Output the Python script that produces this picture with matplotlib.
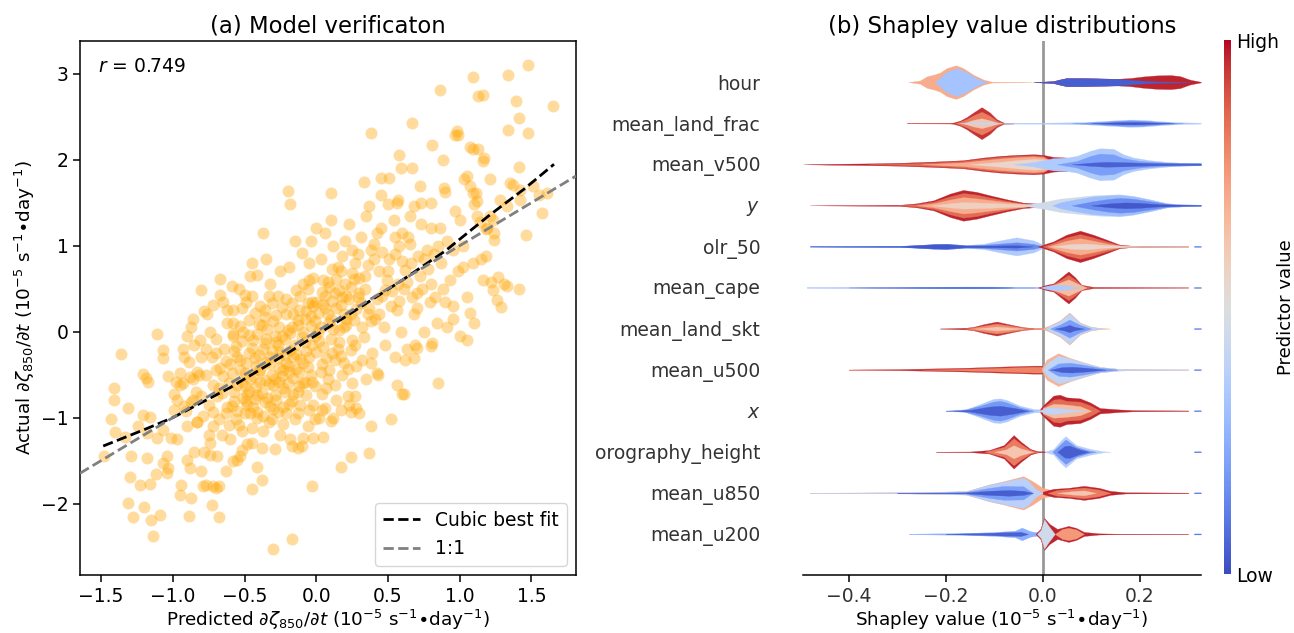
import matplotlib.pyplot as plt
import numpy as np
from matplotlib.colors import Normalize
from matplotlib.cm import ScalarMappable

plt.rcParams['font.family'] = 'DejaVu Sans'

# ---------------- (a) model verification ----------------
# (predicted, actual) pairs
points = np.array([
    # dense cloud
    (-0.97, -1.25), (-0.83, -1.05), (-0.91, -0.92), (-0.86, -0.80), (-0.95, -0.62), (-0.82, -0.50),
    (-0.89, -0.35), (-0.93, -0.20), (-0.85, -1.40), (-0.99, -0.72), (-0.87, 0.05), (-0.81, -0.10),
    (-0.78, -1.40), (-0.66, -1.20), (-0.72, -1.10), (-0.63, -0.95), (-0.75, -0.85), (-0.69, -0.75),
    (-0.61, -0.60), (-0.77, -0.50), (-0.67, -0.42), (-0.73, -0.30), (-0.64, -0.20), (-0.70, -0.08),
    (-0.62, 0.10), (-0.76, 0.20), (-0.68, -0.65), (-0.74, -1.30), (-0.65, 0.35),
    (-0.58, -1.50), (-0.45, -1.30), (-0.52, -1.15), (-0.41, -1.00), (-0.55, -0.92), (-0.48, -0.85),
    (-0.43, -0.78), (-0.57, -0.70), (-0.50, -0.63), (-0.46, -0.55), (-0.59, -0.48), (-0.42, -0.40),
    (-0.53, -0.33), (-0.47, -0.25), (-0.56, -0.17), (-0.44, -0.10), (-0.51, 0.00), (-0.58, 0.10),
    (-0.43, 0.22), (-0.49, 0.35), (-0.54, 0.50), (-0.46, 0.65), (-0.52, -0.58), (-0.40, -0.45),
    (-0.55, -0.30), (-0.48, -0.72), (-0.44, -0.88),
    (-0.38, -1.35), (-0.25, -1.20), (-0.33, -1.05), (-0.21, -0.95), (-0.36, -0.82), (-0.29, -0.74),
    (-0.23, -0.66), (-0.39, -0.58), (-0.31, -0.50), (-0.26, -0.42), (-0.35, -0.35), (-0.22, -0.27),
    (-0.37, -0.20), (-0.28, -0.12), (-0.24, -0.05), (-0.34, 0.03), (-0.30, 0.12), (-0.21, 0.20),
    (-0.39, 0.30), (-0.27, 0.42), (-0.32, 0.55), (-0.25, 0.70), (-0.35, 0.85), (-0.20, -0.60),
    (-0.33, -0.38), (-0.27, -0.15), (-0.38, 0.08), (-0.30, -0.90), (-0.23, -0.45), (-0.36, 0.25),
    (-0.18, -1.25), (-0.06, -1.10), (-0.13, -0.95), (-0.02, -0.85), (-0.16, -0.72), (-0.09, -0.60),
    (-0.04, -0.50), (-0.19, -0.40), (-0.11, -0.32), (-0.07, -0.22), (-0.15, -0.15), (-0.01, -0.05),
    (-0.17, 0.05), (-0.08, 0.15), (-0.12, 0.25), (-0.03, 0.35), (-0.14, 0.48), (-0.05, 0.60),
    (-0.19, 0.75), (-0.10, 0.92), (-0.04, 1.05), (-0.16, -0.30), (-0.09, 0.00), (-0.02, 0.30),
    (-0.13, -0.70), (-0.06, 0.50),
    (0.02, -1.00), (0.14, -0.80), (0.07, -0.65), (0.18, -0.50), (0.04, -0.38), (0.11, -0.25),
    (0.16, -0.12), (0.01, 0.00), (0.09, 0.10), (0.19, 0.20), (0.05, 0.32), (0.13, 0.45),
    (0.08, 0.58), (0.17, 0.70), (0.03, 0.85), (0.12, 1.00), (0.06, 1.15), (0.15, -0.20),
    (0.10, 0.15), (0.18, 0.40),
    (0.22, -0.75), (0.35, -0.55), (0.28, -0.40), (0.39, -0.25), (0.25, -0.10), (0.32, 0.05),
    (0.21, 0.15), (0.37, 0.28), (0.29, 0.40), (0.24, 0.52), (0.34, 0.65), (0.27, 0.80),
    (0.38, 0.95), (0.31, 1.10), (0.23, 1.25), (0.36, 0.20), (0.30, 0.45),
    (0.43, -0.50), (0.55, -0.30), (0.48, -0.15), (0.59, 0.00), (0.41, 0.15), (0.52, 0.30),
    (0.46, 0.42), (0.57, 0.55), (0.44, 0.70), (0.51, 0.85), (0.58, 1.00), (0.42, 1.15),
    (0.54, 1.30), (0.49, 0.60), (0.56, 0.25),
    (0.63, -0.20), (0.75, 0.00), (0.68, 0.20), (0.79, 0.35), (0.61, 0.50), (0.72, 0.65),
    (0.66, 0.80), (0.77, 0.95), (0.64, 1.10), (0.73, 1.25), (0.70, 0.45),
    (0.84, 0.10), (0.95, 0.30), (0.88, 0.50), (0.99, 0.70), (0.82, 0.90), (0.91, 1.05),
    (0.86, 1.20), (0.97, 1.40), (0.93, 0.60),
    (1.05, 0.40), (1.16, 0.60), (1.09, 0.80), (1.02, 1.00), (1.19, 1.20),
    (-0.62, -0.88), (-0.57, -0.81), (-0.51, -0.77), (-0.47, -0.69), (-0.42, -0.64), (-0.38, -0.71),
    (-0.33, -0.61), (-0.29, -0.55), (-0.24, -0.52), (-0.19, -0.47), (-0.14, -0.43), (-0.09, -0.37),
    (-0.05, -0.29), (0.00, -0.24), (0.05, -0.18), (0.10, -0.09), (0.16, 0.02), (0.21, 0.08),
    (0.26, 0.13), (-0.65, -0.52), (-0.60, -0.38), (-0.53, -0.44), (-0.49, -0.36), (-0.45, -0.19),
    (-0.40, -0.27), (-0.36, -0.13), (-0.31, -0.22), (-0.27, -0.31), (-0.22, -0.08), (-0.18, -0.02),
    (-0.13, 0.08), (-0.08, -0.12), (-0.04, 0.18), (0.01, 0.22), (0.06, 0.27), (0.11, 0.36),
    (0.17, 0.31), (0.23, 0.38), (0.28, 0.26), (-0.68, -1.02), (-0.61, -1.08), (-0.56, -1.02),
    (-0.50, -0.95), (-0.45, -1.12), (-0.41, -0.93), (-0.37, -0.98), (-0.32, -0.86), (-0.28, -0.79),
    (-0.23, -0.88), (-0.17, -0.81), (-0.12, -0.63), (-0.07, -0.74), (-0.03, -0.58), (0.03, -0.47),
    (0.08, -0.55), (0.13, -0.33), (0.19, -0.36), (0.24, -0.21), (-0.58, -0.05), (-0.53, 0.07),
    (-0.47, 0.14), (-0.41, -0.03), (-0.36, 0.17), (-0.31, 0.33), (-0.26, 0.05), (-0.21, 0.38),
    (-0.16, 0.21), (-0.11, 0.41), (-0.06, 0.33), (-0.01, 0.12), (0.04, 0.46), (0.09, 0.52),
    (0.14, 0.61), (0.20, 0.55), (0.25, 0.68), (-0.72, -0.62), (-0.80, -0.75), (-0.90, -1.10),
    (-0.95, -0.48), (-0.60, -1.25), (-0.52, -1.38),
    (-0.66, -0.71), (-0.63, -0.34), (-0.59, -0.86), (-0.57, -0.22), (-0.55, -0.62), (-0.54, -1.08),
    (-0.52, -0.11), (-0.50, -0.48), (-0.49, -0.81), (-0.47, -0.04), (-0.46, -0.95), (-0.44, -0.52),
    (-0.43, -0.31), (-0.41, -0.74), (-0.40, 0.09), (-0.39, -0.44), (-0.37, -1.15), (-0.36, -0.56),
    (-0.35, -0.08), (-0.34, -0.77), (-0.33, 0.41), (-0.32, -0.29), (-0.31, -1.02), (-0.30, -0.62),
    (-0.29, -0.05), (-0.28, 0.19), (-0.27, -0.93), (-0.26, -0.58), (-0.25, -0.24), (-0.24, 0.29),
    (-0.23, -1.07), (-0.22, -0.70), (-0.21, -0.37), (-0.20, 0.02), (-0.19, -0.84), (-0.18, -0.21),
    (-0.17, 0.33), (-0.16, -0.54), (-0.15, -1.02), (-0.14, -0.26), (-0.13, 0.14), (-0.12, -0.47),
    (-0.11, -0.85), (-0.10, -0.06), (-0.09, 0.56), (-0.08, -0.58), (-0.07, 0.24), (-0.06, -0.41),
    (-0.05, -0.91), (-0.04, 0.07), (-0.03, -0.15), (-0.02, 0.62), (-0.01, -0.63), (0.00, 0.34),
    (0.02, -0.11), (0.03, 0.05), (0.04, -0.72), (0.06, 0.41), (0.07, -0.31), (0.08, 0.21),
    (0.09, -0.44), (0.11, 0.73), (0.12, 0.03), (0.13, -0.62), (0.14, 0.28), (0.16, 0.49),
    (0.17, -0.28), (0.18, 0.88), (0.19, 0.06), (0.21, 0.42), (0.22, -0.43), (0.24, 0.21),
    (0.26, 0.61), (0.27, -0.16), (0.29, 0.90), (0.31, 0.33), (0.33, -0.06), (0.34, 0.50),
    (0.36, 0.77), (0.38, 0.12), (0.40, 1.02), (0.42, 0.38), (0.44, 0.21), (0.46, 0.93),
    (0.47, 0.06), (0.50, 0.71), (0.53, 0.47), (0.55, 1.10), (0.58, 0.36), (0.60, 0.82),
    (0.63, 0.58), (0.65, 1.02), (0.67, 0.40), (0.71, 0.88), (0.74, 0.50), (0.78, 0.73),
    (0.83, 0.40), (0.87, 0.80), (-0.72, -0.93), (-0.70, -0.45), (-0.77, -0.20), (-0.79, -0.98),
    (-0.84, -0.70), (-0.88, -0.53), (-0.92, -0.30), (-0.75, -1.20), (-0.69, -1.45), (-0.63, -1.62),
    (-0.58, -0.03), (-0.62, 0.25), (-0.52, 0.28), (-0.45, 0.42),
    # upper-left scatter
    (-0.20, 1.64), (-0.18, 1.49), (-0.37, 1.15), (-0.15, 1.06), (-0.45, 0.80), (-0.41, 0.66),
    (-0.67, 0.61), (-0.59, 0.53), (-0.80, 0.48), (-0.67, 0.43), (-0.50, 0.43), (-0.72, 0.31),
    (-0.78, 0.24), (-0.58, 0.25), (-0.86, 0.15),
    # lower-left scatter
    (-1.11, -0.03), (-1.36, -0.26), (-1.07, -0.21), (-1.07, -0.31), (-1.21, -0.49), (-1.19, -0.54),
    (-1.17, -0.58), (-1.41, -0.65), (-1.41, -0.79), (-1.31, -0.89), (-1.43, -1.02), (-1.40, -1.17),
    (-1.48, -1.45), (-1.30, -1.69), (-1.23, -1.78), (-1.16, -1.77), (-1.31, -1.99), (-1.28, -2.15),
    (-1.20, -2.04), (-1.15, -2.19), (-1.09, -2.13), (-1.14, -2.38), (-0.30, -2.53), (-0.17, -2.41),
    (-0.89, -2.14), (-0.73, -2.01), (-0.68, -2.15), (-0.95, -1.90), (-0.87, -1.93), (-0.94, -1.78),
    (-0.79, -1.79), (-0.77, -1.78), (-0.72, -1.80), (-0.70, -1.82), (-0.68, -1.80), (-0.45, -1.83),
    (-0.38, -1.72), (-0.80, -1.62), (-1.04, -1.64), (-1.03, -1.59), (-1.07, -1.53), (-1.18, -1.47),
    (-1.12, -1.66), (-0.90, -1.49), (-0.88, -1.59), (-0.74, -1.43), (-0.55, -1.49), (-0.53, -1.45),
    (-0.48, -1.31), (-0.41, -1.57), (-0.29, -1.37), (-1.21, -0.97), (-1.16, -0.99), (-1.24, -1.10),
    (-1.18, -1.18), (-1.11, -1.24), (-1.01, -1.24), (-1.07, -1.14), (-1.04, -1.45), (-1.29, -1.45),
    (-1.33, -1.22), (-1.03, -0.52), (-0.98, -0.58), (-0.93, -0.60), (-0.86, -0.55), (-0.83, -0.47),
    (-0.97, -0.79), (-0.99, -0.91), (-0.92, -0.87), (-0.87, -0.82), (-0.83, -1.05), (-0.90, -0.05),
    (-0.85, -0.15), (-0.80, -0.30), (-0.74, 0.00), (-0.70, -0.25),
    # upper-right scatter
    (1.475, 3.10), (1.335, 2.99), (1.09, 2.96), (0.865, 2.81), (1.13, 2.74), (1.16, 2.75),
    (1.39, 2.68), (1.65, 2.62), (1.41, 2.48), (1.335, 2.35), (1.475, 2.31), (0.67, 2.43),
    (0.38, 2.31), (0.98, 2.33), (0.99, 2.29), (0.97, 2.29), (0.81, 2.17), (1.07, 2.15),
    (1.09, 2.12), (1.13, 2.12), (1.17, 2.02), (1.16, 1.98), (0.88, 2.00), (0.58, 2.06),
    (0.59, 1.90), (0.67, 1.90), (1.05, 1.81), (1.03, 1.77), (1.07, 1.69), (1.09, 1.61),
    (1.21, 1.77), (1.41, 1.91), (0.33, 1.74), (0.45, 1.79), (0.51, 1.79), (0.72, 1.69),
    (0.89, 1.67), (0.90, 1.63), (0.105, 1.61), (0.45, 1.59), (0.57, 1.53), (0.50, 1.48),
    (0.56, 1.50), (0.365, 1.46), (0.68, 1.46), (0.73, 1.50), (0.80, 1.50), (1.10, 1.48),
    (1.12, 1.52), (1.11, 1.61), (1.35, 1.73), (1.37, 1.71), (1.42, 1.65), (1.42, 1.53),
    (1.28, 1.53), (1.33, 1.46), (1.51, 1.69), (1.55, 1.59), (1.61, 1.61), (1.575, 1.38),
    (1.465, 1.12), (1.21, 1.34), (1.23, 1.30), (1.24, 1.15), (1.24, 1.07), (1.12, 1.34),
    (1.14, 1.28), (1.18, 1.19), (1.27, 0.64), (1.31, 0.55), (1.33, 0.53), (1.22, 0.58),
    (1.23, 0.48), (1.26, 0.37), (1.29, 0.29), (1.41, 0.50), (1.15, 0.85), (1.18, 0.88),
    (1.07, 0.22), (0.00, 1.20), (0.10, 1.30), (0.20, 1.05), (0.35, 1.35), (0.45, 1.20),
    (0.60, 1.15), (0.65, 1.35), (0.80, 1.20), (0.75, 0.85), (0.85, 1.00), (0.95, 0.95),
    (1.00, 1.30), (1.02, 0.75), (0.90, 0.35), (0.55, 0.90), (0.40, 0.85), (0.25, 0.95),
    (0.15, 0.75), (0.05, 0.60), (-0.05, 0.80), (0.30, 0.62), (0.48, 0.48), (0.62, 0.72),
    (0.70, 0.28), (0.80, 0.55), (0.95, 0.15), (1.10, 0.10), (1.00, -0.05),
    # lower-right scatter
    (1.05, -0.10), (0.85, -0.60), (0.81, -0.13), (0.80, -0.17), (0.91, 0.06), (0.69, -0.15),
    (0.70, -0.19), (0.68, -0.31), (0.62, -0.33), (0.56, -0.62), (0.60, -0.73), (0.61, -0.72),
    (0.52, -1.02), (0.38, -1.10), (0.37, -1.41), (0.24, -1.46), (0.17, -1.57), (-0.03, -1.79),
    (0.42, -0.48), (0.38, -0.36), (0.32, -0.33), (0.25, -0.60), (0.27, -0.75), (0.28, -0.89),
    (0.30, -0.95), (0.23, -0.85), (0.24, -0.93), (0.17, -0.91), (0.12, -1.00), (0.10, -1.04),
    (0.06, -0.89), (0.04, -0.91), (-0.01, -1.02), (-0.09, -1.24), (0.05, -1.22), (-0.02, -1.24),
    (-0.10, -1.33), (-0.13, -1.35), (-0.17, -1.33),
])
pred = points[:, 0]
actual = points[:, 1]

# cubic best fit curve
fit_pred = [-1.485, -1.2, -1.0, -0.6, -0.2, 0.2, 0.6, 0.9, 1.2, 1.45, 1.657]
fit_actual = [-1.33, -1.14, -1.0, -0.65, -0.25, 0.17, 0.6, 0.94, 1.345, 1.66, 1.947]
r_value = 0.749

# ---------------- (b) Shapley value distributions ----------------
feature_labels = ['hour', 'mean_land_frac', 'mean_v500', '$y$', 'olr_50', 'mean_cape',
                  'mean_land_skt', 'mean_u500', '$x$', 'orography_height', 'mean_u850',
                  'mean_u200']

# each layer: (predictor value 0-1, shap x knots, half width), drawn outer to inner
dash = (0.10, [0.311, 0.313, 0.326], [0.0, 0.012, 0.012])

hour_layers = [
    (0.70, [-0.277, -0.253, -0.239, -0.225, -0.212, -0.198, -0.179, -0.164, -0.143, -0.122, -0.105, -0.060, -0.019],
           [0.0, 0.04, 0.14, 0.18, 0.23, 0.34, 0.41, 0.34, 0.18, 0.06, 0.010, 0.006, 0.0]),
    (0.32, [-0.222, -0.198, -0.177, -0.157, -0.136, -0.115], [0.0, 0.25, 0.34, 0.24, 0.09, 0.0]),
    (0.97, [-0.019, 0.022, 0.036, 0.049, 0.084, 0.118, 0.153, 0.180, 0.208, 0.235, 0.263, 0.283, 0.304, 0.326],
           [0.0, 0.024, 0.065, 0.098, 0.098, 0.089, 0.081, 0.098, 0.138, 0.163, 0.171, 0.146, 0.057, 0.008]),
    (0.04, [-0.019, 0.022, 0.036, 0.049, 0.084, 0.118, 0.153, 0.180, 0.208, 0.235, 0.263, 0.283, 0.304],
           [0.0, 0.024, 0.065, 0.098, 0.098, 0.089, 0.081, 0.057, 0.033, 0.016, 0.012, 0.008, 0.0]),
]
land_frac_layers = [
    (0.95, [-0.280, -0.191, -0.184, -0.170, -0.157, -0.143, -0.126, -0.109, -0.095, -0.081, -0.060],
           [0.004, 0.008, 0.016, 0.065, 0.146, 0.26, 0.39, 0.26, 0.098, 0.016, 0.008]),
    (0.82, [-0.180, -0.170, -0.157, -0.143, -0.126, -0.109, -0.095, -0.081], [0.0, 0.04, 0.10, 0.19, 0.28, 0.18, 0.06, 0.0]),
    (0.62, [-0.165, -0.143, -0.126, -0.109, -0.090], [0.0, 0.08, 0.12, 0.07, 0.0]),
    (0.42, [-0.170, -0.126, -0.085], [0.005, 0.03, 0.005]),
    (0.35, [-0.081, 0.0, 0.084, 0.118, 0.153, 0.180, 0.208, 0.242, 0.276, 0.326],
           [0.010, 0.012, 0.024, 0.049, 0.073, 0.089, 0.081, 0.049, 0.024, 0.010]),
    (0.18, [0.060, 0.118, 0.153, 0.180, 0.208, 0.242, 0.290], [0.0, 0.03, 0.055, 0.07, 0.06, 0.03, 0.0]),
    (0.03, [0.100, 0.160, 0.190, 0.230, 0.270], [0.0, 0.025, 0.03, 0.015, 0.0]),
]
v500_layers = [
    (0.97, [-0.493, -0.432, -0.363, -0.294, -0.225, -0.164, -0.122, -0.088, -0.054, -0.019, 0.001, 0.022, 0.049, 0.060],
           [0.0, 0.012, 0.020, 0.036, 0.065, 0.098, 0.163, 0.203, 0.228, 0.244, 0.228, 0.179, 0.163, 0.0]),
    (0.85, [-0.360, -0.294, -0.225, -0.164, -0.122, -0.088, -0.054, -0.019, 0.001, 0.030],
           [0.0, 0.018, 0.045, 0.08, 0.14, 0.18, 0.205, 0.22, 0.20, 0.0]),
    (0.70, [-0.250, -0.164, -0.122, -0.088, -0.054, -0.019, 0.001, 0.030], [0.0, 0.045, 0.10, 0.14, 0.17, 0.19, 0.17, 0.0]),
    (0.55, [-0.150, -0.088, -0.054, -0.019, 0.001, 0.022, 0.050], [0.0, 0.06, 0.10, 0.13, 0.12, 0.09, 0.0]),
    (0.35, [-0.060, -0.019, 0.001, 0.022, 0.049, 0.070, 0.098, 0.118, 0.146, 0.166, 0.187, 0.221, 0.256, 0.290, 0.326],
           [0.0, 0.05, 0.10, 0.15, 0.163, 0.203, 0.325, 0.39, 0.374, 0.244, 0.163, 0.098, 0.057, 0.033, 0.024]),
    (0.20, [0.030, 0.070, 0.098, 0.118, 0.146, 0.166, 0.200, 0.250, 0.326], [0.0, 0.08, 0.20, 0.26, 0.24, 0.15, 0.08, 0.04, 0.024]),
    (0.05, [0.060, 0.100, 0.130, 0.170, 0.220, 0.280, 0.326], [0.0, 0.04, 0.06, 0.05, 0.03, 0.02, 0.02]),
]
y_layers = [
    (0.97, [-0.480, -0.294, -0.260, -0.225, -0.191, -0.164, -0.136, -0.109, -0.074, -0.040, -0.019, 0.0, 0.020],
           [0.0, 0.014, 0.049, 0.122, 0.285, 0.374, 0.325, 0.244, 0.146, 0.065, 0.049, 0.04, 0.0]),
    (0.85, [-0.300, -0.260, -0.225, -0.191, -0.164, -0.136, -0.109, -0.074, -0.040, -0.010],
           [0.0, 0.03, 0.09, 0.22, 0.30, 0.26, 0.19, 0.11, 0.045, 0.0]),
    (0.70, [-0.260, -0.225, -0.191, -0.164, -0.136, -0.109, -0.074, -0.040, -0.010], [0.0, 0.05, 0.14, 0.20, 0.17, 0.13, 0.08, 0.035, 0.0]),
    (0.58, [-0.230, -0.191, -0.164, -0.136, -0.109, -0.074, -0.040, 0.0], [0.0, 0.05, 0.08, 0.07, 0.06, 0.04, 0.03, 0.0]),
    (0.45, [-0.040, -0.019, 0.001, 0.036, 0.070, 0.104, 0.132, 0.159, 0.187, 0.221, 0.256, 0.290, 0.326],
           [0.0, 0.049, 0.081, 0.163, 0.203, 0.244, 0.26, 0.268, 0.228, 0.146, 0.049, 0.024, 0.016]),
    (0.30, [0.020, 0.036, 0.070, 0.104, 0.132, 0.159, 0.187, 0.221, 0.256, 0.290, 0.326],
           [0.0, 0.07, 0.15, 0.215, 0.24, 0.255, 0.22, 0.14, 0.049, 0.024, 0.016]),
    (0.15, [0.060, 0.104, 0.132, 0.159, 0.187, 0.221, 0.256, 0.290], [0.0, 0.10, 0.15, 0.18, 0.16, 0.10, 0.035, 0.0]),
    (0.03, [0.100, 0.140, 0.170, 0.200, 0.240, 0.326], [0.0, 0.05, 0.07, 0.06, 0.025, 0.01]),
]
olr_layers = [
    (0.35, [-0.480, -0.294, -0.260, -0.225, -0.198, -0.157, -0.122, -0.088, -0.054, -0.019, 0.001, 0.020],
           [0.004, 0.014, 0.033, 0.057, 0.065, 0.033, 0.065, 0.146, 0.22, 0.146, 0.041, 0.0]),
    (0.15, [-0.480, -0.294, -0.260, -0.225, -0.198, -0.157, -0.122, -0.088, -0.054, -0.019, 0.0],
           [0.004, 0.014, 0.033, 0.057, 0.065, 0.03, 0.04, 0.07, 0.10, 0.06, 0.0]),
    (0.03, [-0.480, -0.294, -0.260, -0.225, -0.198, -0.160, -0.100, -0.054, -0.020],
           [0.003, 0.010, 0.028, 0.05, 0.055, 0.02, 0.02, 0.03, 0.0]),
    (0.97, [-0.010, 0.022, 0.049, 0.077, 0.104, 0.132, 0.159, 0.187, 0.300],
           [0.0, 0.122, 0.285, 0.382, 0.285, 0.163, 0.041, 0.014, 0.006]),
    (0.85, [0.0, 0.022, 0.049, 0.077, 0.104, 0.132, 0.159, 0.190], [0.0, 0.09, 0.22, 0.30, 0.22, 0.12, 0.03, 0.0]),
    (0.70, [0.010, 0.049, 0.077, 0.104, 0.132, 0.170], [0.0, 0.14, 0.20, 0.14, 0.07, 0.0]),
    (0.55, [0.020, 0.060, 0.090, 0.130, 0.200, 0.300], [0.0, 0.06, 0.07, 0.03, 0.010, 0.005]),
    dash,
]
cape_layers = [
    (0.20, [-0.487, -0.294, -0.225, -0.157, -0.102, -0.054, -0.019, 0.0], [0.003, 0.010, 0.018, 0.022, 0.022, 0.014, 0.014, 0.0]),
    (0.05, [-0.400, -0.250, -0.157, -0.102, -0.060], [0.0, 0.010, 0.013, 0.010, 0.0]),
    (0.97, [-0.010, 0.008, 0.022, 0.036, 0.053, 0.067, 0.080, 0.104, 0.300],
           [0.0, 0.065, 0.098, 0.228, 0.39, 0.244, 0.065, 0.014, 0.005]),
    (0.85, [0.0, 0.022, 0.036, 0.053, 0.067, 0.080, 0.100], [0.0, 0.08, 0.18, 0.31, 0.19, 0.05, 0.0]),
    (0.65, [0.005, 0.036, 0.053, 0.067, 0.090], [0.0, 0.12, 0.20, 0.12, 0.0]),
    (0.35, [-0.005, 0.010, 0.030, 0.050, 0.065, 0.080], [0.0, 0.045, 0.07, 0.05, 0.02, 0.0]),
    dash,
]
land_skt_layers = [
    (0.95, [-0.212, -0.157, -0.143, -0.122, -0.095, -0.067, -0.040, -0.019, 0.0],
           [0.003, 0.022, 0.041, 0.106, 0.171, 0.098, 0.033, 0.014, 0.010]),
    (0.78, [-0.160, -0.143, -0.122, -0.095, -0.067, -0.040, -0.010], [0.0, 0.025, 0.07, 0.12, 0.07, 0.02, 0.0]),
    (0.62, [-0.140, -0.110, -0.095, -0.075, -0.040], [0.0, 0.03, 0.05, 0.03, 0.0]),
    (0.70, [-0.019, 0.001, 0.015, 0.036, 0.055, 0.077, 0.098, 0.118, 0.139],
           [0.010, 0.014, 0.081, 0.203, 0.39, 0.146, 0.049, 0.014, 0.0]),
    (0.40, [0.005, 0.015, 0.036, 0.055, 0.077, 0.098, 0.125], [0.0, 0.07, 0.185, 0.37, 0.135, 0.04, 0.0]),
    (0.20, [0.015, 0.036, 0.055, 0.077, 0.100], [0.0, 0.10, 0.22, 0.09, 0.0]),
    (0.04, [0.025, 0.045, 0.055, 0.065, 0.085], [0.0, 0.05, 0.09, 0.045, 0.0]),
    dash,
]
u500_layers = [
    (0.95, [-0.400, -0.294, -0.225, -0.157, -0.088, -0.019, -0.002, 0.010],
           [0.003, 0.014, 0.030, 0.047, 0.073, 0.098, 0.098, 0.0]),
    (0.80, [-0.250, -0.157, -0.088, -0.019, -0.002, 0.010], [0.0, 0.022, 0.045, 0.07, 0.07, 0.0]),
    (0.68, [-0.002, 0.008, 0.032, 0.056, 0.084, 0.118, 0.153, 0.187, 0.300],
           [0.03, 0.244, 0.40, 0.285, 0.179, 0.065, 0.024, 0.014, 0.006]),
    (0.40, [0.0, 0.010, 0.032, 0.056, 0.084, 0.118, 0.153, 0.187, 0.300],
           [0.0, 0.17, 0.34, 0.27, 0.17, 0.065, 0.024, 0.012, 0.006]),
    (0.20, [0.010, 0.032, 0.056, 0.084, 0.118, 0.153], [0.0, 0.15, 0.17, 0.12, 0.045, 0.01]),
    (0.04, [0.015, 0.040, 0.060, 0.090, 0.130], [0.0, 0.06, 0.07, 0.045, 0.0]),
    dash,
]
x_layers = [
    (0.35, [-0.184, -0.157, -0.129, -0.102, -0.088, -0.074, -0.047, -0.019, 0.0],
           [0.010, 0.041, 0.163, 0.285, 0.30, 0.26, 0.122, 0.041, 0.03]),
    (0.18, [-0.170, -0.129, -0.102, -0.088, -0.074, -0.047, -0.019], [0.0, 0.12, 0.22, 0.24, 0.20, 0.08, 0.0]),
    (0.04, [-0.200, -0.150, -0.110, -0.088, -0.060, -0.030], [0.004, 0.02, 0.10, 0.12, 0.07, 0.0]),
    (0.97, [-0.005, 0.0, 0.022, 0.035, 0.049, 0.077, 0.098, 0.118, 0.159, 0.187, 0.300],
           [0.05, 0.12, 0.366, 0.39, 0.325, 0.30, 0.20, 0.065, 0.030, 0.014, 0.006]),
    (0.85, [0.0, 0.022, 0.035, 0.049, 0.077, 0.098, 0.118], [0.08, 0.27, 0.29, 0.24, 0.22, 0.13, 0.0]),
    (0.65, [0.0, 0.022, 0.049, 0.077, 0.100], [0.06, 0.17, 0.15, 0.11, 0.0]),
    (0.40, [-0.010, 0.010, 0.030, 0.060, 0.090], [0.0, 0.08, 0.07, 0.03, 0.0]),
    dash,
]
orography_layers = [
    (0.97, [-0.220, -0.150, -0.111, -0.080, -0.060, -0.045, -0.025, -0.010, 0.005],
           [0.003, 0.007, 0.041, 0.163, 0.407, 0.244, 0.065, 0.014, 0.008]),
    (0.82, [-0.120, -0.080, -0.060, -0.045, -0.025, -0.010], [0.0, 0.12, 0.33, 0.19, 0.04, 0.0]),
    (0.62, [-0.100, -0.075, -0.060, -0.045, -0.020], [0.0, 0.06, 0.16, 0.08, 0.0]),
    (0.38, [0.005, 0.022, 0.038, 0.047, 0.069, 0.100, 0.124, 0.140], [0.008, 0.065, 0.285, 0.382, 0.163, 0.065, 0.014, 0.0]),
    (0.18, [0.020, 0.038, 0.047, 0.069, 0.095, 0.110], [0.0, 0.20, 0.30, 0.12, 0.03, 0.0]),
    (0.04, [0.030, 0.045, 0.055, 0.075, 0.095], [0.0, 0.14, 0.15, 0.06, 0.0]),
    dash,
]
u850_layers = [
    (0.70, [-0.480, -0.276, -0.158, -0.111, -0.080, -0.040, -0.021, 0.0, 0.022],
           [0.003, 0.014, 0.041, 0.203, 0.285, 0.407, 0.285, 0.122, 0.06]),
    (0.38, [-0.480, -0.276, -0.158, -0.111, -0.080, -0.040, -0.030, -0.015, 0.0],
           [0.003, 0.014, 0.04, 0.195, 0.275, 0.37, 0.30, 0.10, 0.0]),
    (0.20, [-0.300, -0.200, -0.158, -0.111, -0.080, -0.040, -0.020], [0.004, 0.010, 0.025, 0.12, 0.17, 0.16, 0.0]),
    (0.04, [-0.300, -0.160, -0.111, -0.070, -0.040, -0.020], [0.003, 0.010, 0.05, 0.07, 0.05, 0.0]),
    (0.97, [0.0, 0.022, 0.053, 0.085, 0.116, 0.139, 0.171, 0.300], [0.03, 0.098, 0.122, 0.171, 0.122, 0.049, 0.014, 0.006]),
    (0.82, [0.010, 0.030, 0.053, 0.085, 0.116, 0.140], [0.0, 0.07, 0.09, 0.13, 0.08, 0.0]),
    (0.62, [0.030, 0.060, 0.085, 0.110], [0.0, 0.04, 0.06, 0.0]),
    dash,
]
u200_layers = [
    (0.25, [-0.276, -0.158, -0.096, -0.057, -0.043, -0.025, -0.010, 0.0], [0.006, 0.022, 0.049, 0.081, 0.155, 0.065, 0.04, 0.0]),
    (0.05, [-0.200, -0.120, -0.080, -0.060, -0.045, -0.030], [0.004, 0.025, 0.04, 0.045, 0.05, 0.0]),
    (0.97, [-0.015, -0.005, 0.003, 0.014, 0.030, 0.053, 0.069, 0.085, 0.116, 0.155, 0.300],
           [0.0, 0.12, 0.39, 0.244, 0.122, 0.195, 0.146, 0.049, 0.014, 0.006, 0.003]),
    (0.45, [-0.012, -0.004, 0.003, 0.012, 0.025], [0.0, 0.10, 0.36, 0.20, 0.0]),
    (0.75, [0.025, 0.040, 0.053, 0.069, 0.085], [0.0, 0.12, 0.15, 0.11, 0.0]),
    dash,
]
feature_layers = [hour_layers, land_frac_layers, v500_layers, y_layers, olr_layers, cape_layers,
                  land_skt_layers, u500_layers, x_layers, orography_layers, u850_layers, u200_layers]

unit = '($10^{-5}$ s$^{-1}$∙day$^{-1}$)'
dzdt = r'$\partial\zeta_{850}/\partial t$'

fig = plt.figure(figsize=(12.94, 6.33), dpi=100)
ax1 = fig.add_axes([0.0618, 0.0916, 0.3833, 0.8436])
ax2 = fig.add_axes([0.6208, 0.0916, 0.3071, 0.8436])
cax = fig.add_axes([0.9461, 0.0927, 0.0052, 0.8441])

# ---- panel (a)
ax1.scatter(pred, actual, s=75, color='orange', alpha=0.38, linewidths=0, zorder=1)
ax1.plot(fit_pred, fit_actual, color='black', ls='--', lw=2.0, label='Cubic best fit', zorder=3)
ax1.axline((0, 0), slope=1, color='grey', ls='--', lw=2.0, label='1:1', zorder=3)
ax1.set_xlim(-1.647, 1.81)
ax1.set_ylim(-2.83, 3.38)
ax1.set_xticks([-1.5, -1.0, -0.5, 0.0, 0.5, 1.0, 1.5])
ax1.set_yticks([-2, -1, 0, 1, 2, 3])
ax1.tick_params(labelsize=13.5, length=4.8, width=1.1)
for sp in ax1.spines.values():
    sp.set_linewidth(1.1)
ax1.text(0.036, 0.952, '$r$ = %.3f' % r_value, transform=ax1.transAxes, fontsize=13.5, va='center')
ax1.legend(loc='lower right', fontsize=13.5)
ax1.set_xlabel('Predicted ' + dzdt + ' ' + unit, fontsize=13.2, labelpad=2)
ax1.set_ylabel('Actual ' + dzdt + ' ' + unit, fontsize=13.2, labelpad=3)
ax1.set_title('(a) Model verificaton', fontsize=16.4)

# ---- panel (b)
cmap = plt.get_cmap('coolwarm')
rows = np.arange(len(feature_labels))[::-1]
for pos, layers in zip(rows, feature_layers):
    for val, xs, hs in layers:
        xs = np.asarray(xs)
        hs = np.asarray(hs)
        col = cmap(val)
        ax2.fill_between(xs, pos - hs, pos + hs, facecolor=col, edgecolor=col, linewidth=0.2, zorder=2)
ax2.axvline(0, color='#999999', lw=2.0, zorder=1)
ax2.set_xlim(-0.4936, 0.3258)
ax2.set_ylim(-1, len(feature_labels))
ax2.set_yticks(rows)
ax2.set_yticklabels(feature_labels)
ax2.set_xticks([-0.4, -0.2, 0.0, 0.2])
for side in ['left', 'top', 'right']:
    ax2.spines[side].set_visible(False)
ax2.spines['bottom'].set_linewidth(1.1)
ax2.tick_params(axis='y', length=0, pad=31, labelsize=13.5, labelcolor='#333333')
ax2.tick_params(axis='x', labelsize=13.5, length=4.8, width=1.1, labelcolor='#333333')
ax2.set_xlabel('Shapley value ' + unit, fontsize=13.2, labelpad=2)
ax2.set_title('(b) Shapley value distributions', fontsize=16.4)

# ---- colorbar
sm = ScalarMappable(norm=Normalize(0, 1), cmap=cmap)
cb = fig.colorbar(sm, cax=cax, ticks=[0, 1])
cb.set_ticklabels(['Low', 'High'])
cb.outline.set_visible(False)
cax.tick_params(length=0, labelsize=13.5, pad=4)
cb.set_label('Predictor value', size=13, labelpad=-2)

fig.savefig('out.png', dpi=100)
